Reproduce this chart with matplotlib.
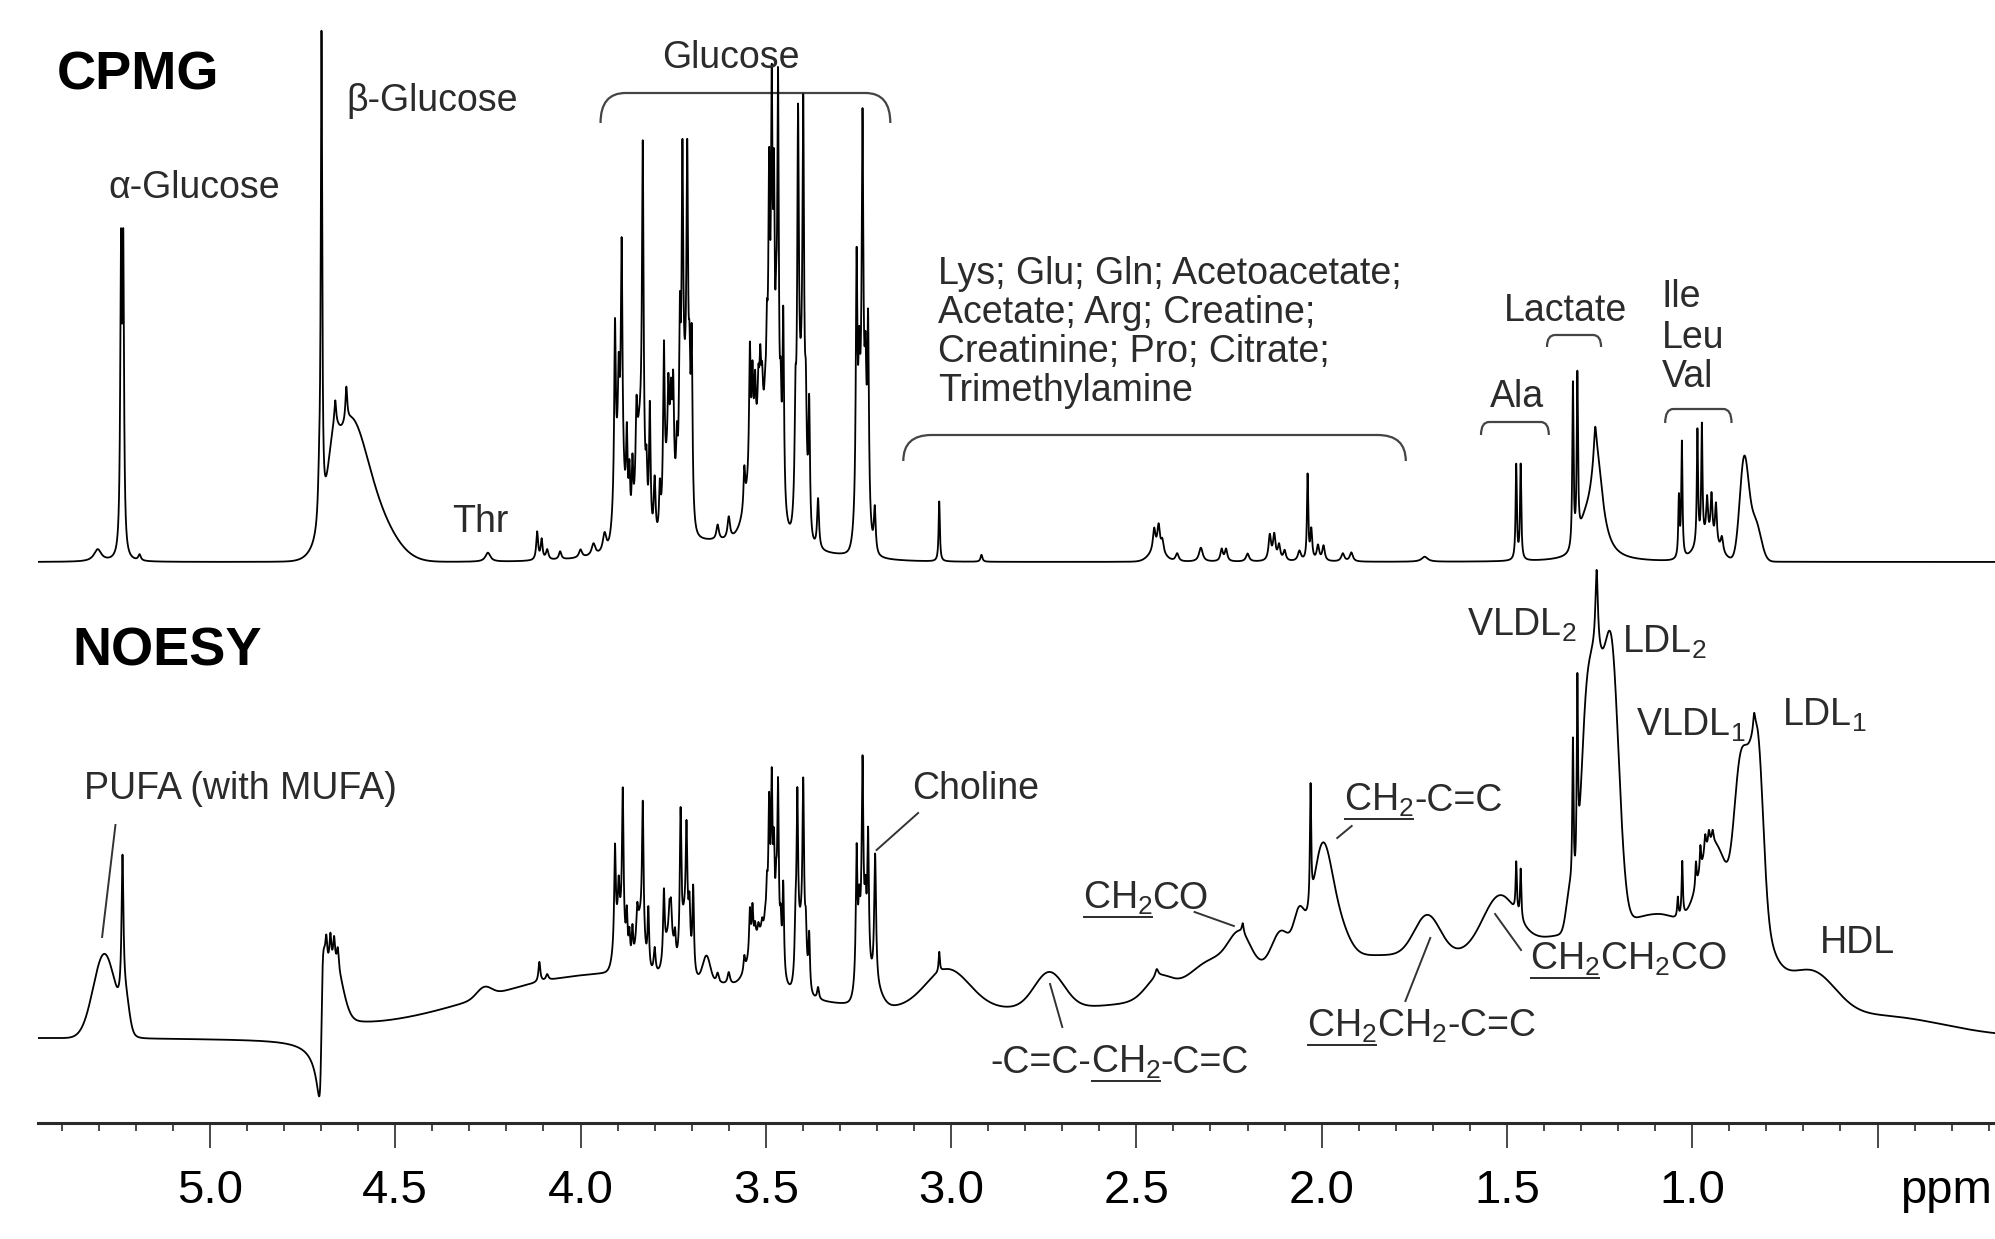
import numpy as np
import matplotlib
matplotlib.use("Agg")
import matplotlib.pyplot as plt
from matplotlib.path import Path
from matplotlib.patches import PathPatch
from matplotlib.transforms import offset_copy

plt.rcParams['font.family'] = ['Liberation Sans', 'DejaVu Sans']
plt.rcParams['mathtext.fontset'] = 'custom'
plt.rcParams['mathtext.rm'] = 'Liberation Sans'
plt.rcParams['mathtext.it'] = 'Liberation Sans:italic'
plt.rcParams['mathtext.bf'] = 'Liberation Sans:bold'

# ---- peak tables: (ppm, height, half width) ----
# CPMG, sharp lines (lorentzian)
cpmg_sugar_lines = [
    (5.303, 12, 0.012), (5.240, 290, 0.0025), (5.234, 290, 0.0025), (5.190, 6, 0.004),
    (4.699, 480, 0.0022), (4.705, 40, 0.004), (4.662, 25, 0.003), (4.632, 35, 0.003),
    (4.250, 9, 0.008), (4.117, 28, 0.003), (4.105, 20, 0.003), (4.090, 10, 0.004),
    (4.055, 8, 0.004), (4.000, 8, 0.005), (3.965, 12, 0.006), (3.935, 20, 0.006),
]
cpmg_glucose_lines = [
    (3.907, 170, 0.0025), (3.897, 80, 0.0025), (3.889, 221, 0.0025), (3.875, 88, 0.0025),
    (3.868, 60, 0.0025), (3.860, 65, 0.0025), (3.849, 67, 0.0025), (3.832, 320, 0.0025),
    (3.822, 50, 0.0025), (3.813, 130, 0.0025), (3.800, 60, 0.003), (3.786, 45, 0.0025),
    (3.775, 158, 0.0025), (3.763, 73, 0.0025), (3.756, 60, 0.0025), (3.750, 93, 0.0025),
    (3.740, 59, 0.0025), (3.732, 155, 0.0025), (3.725, 276, 0.0025), (3.712, 270, 0.0025),
    (3.706, 90, 0.0025), (3.700, 166, 0.0025), (3.630, 15, 0.004), (3.600, 22, 0.004),
    (3.558, 39, 0.0025), (3.543, 125, 0.0025), (3.536, 80, 0.0025), (3.529, 60, 0.0025),
    (3.520, 46, 0.0025), (3.515, 60, 0.0025), (3.510, 40, 0.0025), (3.502, 20, 0.0025),
    (3.497, 80, 0.0025), (3.491, 240, 0.0025), (3.484, 324, 0.0025), (3.478, 238, 0.0025),
    (3.472, 100, 0.0025), (3.467, 381, 0.0025), (3.460, 80, 0.0025), (3.453, 192, 0.0025),
    (3.420, 90, 0.0025), (3.413, 326, 0.0025), (3.399, 322, 0.0025), (3.392, 80, 0.0025),
    (3.383, 128, 0.0025), (3.359, 50, 0.003), (3.255, 240, 0.0025), (3.248, 90, 0.0025),
    (3.239, 315, 0.0025), (3.231, 90, 0.0025), (3.224, 182, 0.0025), (3.206, 45, 0.003),
]
cpmg_small_lines = [
    (3.032, 60, 0.002), (2.918, 7, 0.003), (2.452, 22, 0.004), (2.440, 25, 0.004),
    (2.430, 12, 0.004), (2.390, 8, 0.005), (2.326, 14, 0.006), (2.270, 12, 0.004),
    (2.258, 12, 0.004), (2.200, 8, 0.005), (2.140, 25, 0.004), (2.128, 25, 0.004),
    (2.115, 15, 0.004), (2.100, 10, 0.004), (2.060, 10, 0.005), (2.038, 85, 0.002),
    (2.028, 30, 0.003), (2.010, 15, 0.004), (1.995, 15, 0.004), (1.943, 8, 0.005),
    (1.920, 9, 0.005), (1.722, 5, 0.010),
]
cpmg_aliphatic_lines = [
    (1.475, 95, 0.002), (1.463, 95, 0.002), (1.322, 165, 0.002), (1.310, 165, 0.002),
    (1.262, 30, 0.004), (1.258, 105, 0.020), (1.036, 60, 0.002), (1.028, 115, 0.002),
    (0.986, 115, 0.002), (0.974, 115, 0.002), (0.960, 40, 0.003), (0.948, 45, 0.003),
    (0.936, 40, 0.003), (0.920, 15, 0.004),
]
# CPMG, broad components and multiplet envelopes (gaussian: ppm, height, sigma)
cpmg_humps = [
    (4.628, 120, 0.045), (4.560, 45, 0.055), (4.668, 40, 0.013), (3.620, 20, 0.20),
    (3.895, 90, 0.012), (3.840, 110, 0.010), (3.760, 80, 0.012), (3.718, 120, 0.010),
    (3.510, 110, 0.030), (3.405, 130, 0.010), (3.240, 110, 0.012),
    (2.445, 10, 0.020), (1.290, 20, 0.015), (0.860, 100, 0.012),
    (0.830, 40, 0.015), (0.960, 20, 0.030),
]

# NOESY, sharp lines (lorentzian)
noesy_sugar_lines = [
    (5.236, 140, 0.003), (4.686, 25, 0.003), (4.675, 30, 0.003), (4.665, 25, 0.003),
    (4.655, 20, 0.003), (4.111, 20, 0.003), (4.090, 6, 0.004),
]
noesy_glucose_lines = [
    (3.907, 98, 0.0025), (3.897, 40, 0.0025), (3.886, 146, 0.0025), (3.875, 44, 0.0025),
    (3.868, 30, 0.0025), (3.860, 35, 0.0025), (3.847, 26, 0.0025), (3.832, 134, 0.0025),
    (3.817, 60, 0.0025), (3.800, 25, 0.003), (3.775, 67, 0.0025), (3.760, 25, 0.0025),
    (3.756, 30, 0.0025), (3.745, 23, 0.0025), (3.730, 138, 0.0025), (3.714, 99, 0.0025),
    (3.706, 45, 0.0025), (3.696, 85, 0.0025), (3.630, 10, 0.004), (3.600, 12, 0.004),
    (3.558, 15, 0.0025), (3.543, 45, 0.0025), (3.536, 40, 0.0025), (3.529, 15, 0.0025),
    (3.520, 10, 0.0025), (3.510, 10, 0.0025), (3.502, 10, 0.0025), (3.497, 40, 0.0025),
    (3.491, 125, 0.0025), (3.484, 152, 0.0025), (3.478, 89, 0.0025), (3.472, 50, 0.0025),
    (3.467, 170, 0.0025), (3.460, 40, 0.0025), (3.453, 91, 0.0025), (3.420, 45, 0.0025),
    (3.415, 159, 0.0025), (3.399, 160, 0.0025), (3.392, 40, 0.0025), (3.383, 55, 0.0025),
    (3.359, 12, 0.003), (3.255, 125, 0.0025), (3.248, 45, 0.0025), (3.239, 175, 0.0025),
    (3.231, 45, 0.0025), (3.224, 128, 0.0025), (3.205, 130, 0.003),
]
noesy_aliphatic_lines = [
    (3.032, 20, 0.002), (2.445, 8, 0.005), (2.213, 10, 0.003), (2.030, 120, 0.002),
    (1.475, 50, 0.002), (1.463, 50, 0.002), (1.322, 150, 0.002), (1.310, 190, 0.002),
    (1.258, 80, 0.004), (1.039, 20, 0.002), (1.027, 55, 0.002), (0.990, 25, 0.002),
    (0.978, 25, 0.002), (0.965, 20, 0.003), (0.955, 15, 0.003), (0.945, 12, 0.003),
    (0.833, 15, 0.003), (0.810, 60, 0.045),
]
# NOESY, broad lipid / protein components and multiplet envelopes (gaussian)
noesy_humps = [
    (5.285, 84, 0.030), (5.228, 30, 0.010), (4.660, 45, 0.020), (4.260, 10, 0.020),
    (4.000, 55, 0.300), (3.550, 25, 0.250), (3.660, 25, 0.010), (3.210, 20, 0.020),
    (3.895, 45, 0.012), (3.840, 50, 0.010), (3.760, 40, 0.012), (3.718, 55, 0.010),
    (3.510, 55, 0.030), (3.405, 60, 0.010), (3.240, 55, 0.012),
    (3.010, 40, 0.060), (2.900, 25, 0.350), (2.735, 36, 0.040), (2.440, 20, 0.035),
    (2.300, 25, 0.060), (2.220, 35, 0.030), (2.110, 35, 0.025), (2.060, 45, 0.015),
    (2.000, 100, 0.025), (1.960, 35, 0.030), (1.950, 75, 0.350), (1.715, 40, 0.035),
    (1.520, 52, 0.045), (1.330, 40, 0.010), (1.290, 130, 0.014), (1.262, 240, 0.020),
    (1.218, 270, 0.020), (1.200, 95, 0.300), (1.130, 18, 0.050), (1.060, 20, 0.040),
    (0.940, 120, 0.045), (0.875, 90, 0.015), (0.845, 168, 0.022), (0.820, 100, 0.013),
    (0.670, 35, 0.060), (0.450, 15, 0.150),
]
# residual water in the NOESY trace (dispersive): ppm, amplitude, half width
noesy_water = (4.699, 135, 0.006)

major_ticks = [5.0, 4.5, 4.0, 3.5, 3.0, 2.5, 2.0, 1.5, 1.0, 0.5]
major_labels = ['5.0', '4.5', '4.0', '3.5', '3.0', '2.5', '2.0', '1.5', '1.0', '']
minor_ticks = [round(5.4 - 0.1 * i, 1) for i in range(53)]

cpmg_offset = 561
noesy_offset = 86


def lorentz(x, c, h, w):
    return h / (1.0 + ((x - c) / w) ** 2)


def gauss(x, c, h, s):
    return h * np.exp(-0.5 * ((x - c) / s) ** 2)


def dispersion(x, c, a, w):
    d = c - x
    return a * w * d / (d ** 2 + w ** 2)


def build(x, line_groups, humps):
    y = np.zeros_like(x)
    for group in line_groups:
        for c, h, w in group:
            y += lorentz(x, c, h, w)
    for c, h, s in humps:
        y += gauss(x, c, h, s)
    return y


ppm = np.linspace(5.464, 0.183, 26000)
cpmg = build(ppm, [cpmg_sugar_lines, cpmg_glucose_lines, cpmg_small_lines,
                   cpmg_aliphatic_lines], cpmg_humps)
noesy = build(ppm, [noesy_sugar_lines, noesy_glucose_lines, noesy_aliphatic_lines],
              noesy_humps)
noesy += dispersion(ppm, *noesy_water)

fig = plt.figure(figsize=(19.95, 12.39), dpi=100)
ax = fig.add_axes([38 / 1995, 116 / 1239, 1 - 38 / 1995, 1123 / 1239])
ax.set_xlim(5.464, 0.183)
ax.set_ylim(0, 1123)

ax.plot(ppm, cpmg_offset + cpmg, color='black', lw=1.3)
ax.plot(ppm, noesy_offset + noesy, color='black', lw=1.3)

for s in ['top', 'left', 'right']:
    ax.spines[s].set_visible(False)
ax.spines['bottom'].set_linewidth(2.2)
ax.spines['bottom'].set_color('#2a2a2a')
ax.set_yticks([])
ax.set_xticks(major_ticks)
ax.set_xticklabels(major_labels)
ax.set_xticks(minor_ticks, minor=True)
ax.tick_params(axis='x', which='major', length=18, width=1.2, direction='out',
               labelsize=34, pad=15, color='#2a2a2a')
ax.tick_params(axis='x', which='minor', length=6, width=1.2, direction='out',
               color='#2a2a2a')
ax.text(0.44, -80, 'ppm', fontsize=34, va='baseline', ha='left')

TXT = '#2b2b2b'
LBL = 27

ax.text(5.413, 1034, 'CPMG', fontsize=39, fontweight='bold', va='baseline')
ax.text(5.371, 458, 'NOESY', fontsize=39, fontweight='bold', va='baseline')

plain_labels = [
    (5.275, 925, '\u03b1-Glucose'), (4.633, 1012, '\u03b2-Glucose'), (4.347, 591, 'Thr'),
    (3.781, 1055, 'Glucose'),
    (3.036, 839, 'Lys; Glu; Gln; Acetoacetate;'), (3.036, 800, 'Acetate; Arg; Creatine;'),
    (3.036, 761, 'Creatinine; Pro; Citrate;'), (3.036, 722, 'Trimethylamine'),
    (1.508, 802, 'Lactate'), (1.546, 716, 'Ala'),
    (1.083, 816, 'Ile'), (1.083, 775, 'Leu'), (1.083, 736, 'Val'),
    (5.340, 324, 'PUFA (with MUFA)'), (3.106, 324, 'Choline'),
    (1.608, 487, 'VLDL$_2$'), (1.190, 470, 'LDL$_2$'), (1.152, 387, 'VLDL$_1$'),
    (0.758, 397, 'LDL$_1$'), (0.656, 170, 'HDL'),
]
for x, y, s in plain_labels:
    ax.text(x, y, s, fontsize=LBL, color=TXT, va='baseline', ha='left')

fig.canvas.draw()
renderer = fig.canvas.get_renderer()
inv = ax.transData.inverted()


def chem_label(x, y, pieces):
    # pieces: list of (text, underlined)
    dx = 0.0
    for s, under in pieces:
        tr = offset_copy(ax.transData, fig=fig, x=dx, y=0, units='dots')
        t = ax.text(x, y, s, fontsize=LBL, color=TXT, va='baseline', ha='left',
                    transform=tr)
        bb = t.get_window_extent(renderer)
        if under:
            base = ax.transData.transform((x, y))[1]
            yl = base - 0.22 * LBL * fig.dpi / 72
            p0 = inv.transform((bb.x0 + 1, yl))
            p1 = inv.transform((bb.x1 - 1, yl))
            ax.plot([p0[0], p1[0]], [p0[1], p1[1]], color=TXT, lw=1.4)
        dx += bb.width


chem_label(2.645, 214, [('CH$_2$', True), ('CO', False)])
chem_label(1.939, 312, [('CH$_2$', True), ('-C=C', False)])
chem_label(2.895, 50, [('-C=C-', False), ('CH$_2$', True), ('-C=C', False)])
chem_label(2.040, 86, [('CH$_2$', True), ('CH$_2$-C=C', False)])
chem_label(1.438, 153, [('CH$_2$', True), ('CH$_2$CO', False)])

# pointer lines from labels to peaks
pointers = [
    ((5.255, 298), (5.291, 186)), ((3.089, 310), (3.201, 273)),
    ((2.343, 211), (2.237, 197)), ((1.919, 297), (1.958, 285)),
    ((2.733, 139), (2.700, 96)), ((1.707, 185), (1.774, 122)),
    ((1.532, 209), (1.462, 173)),
]
for (x0, y0), (x1, y1) in pointers:
    ax.plot([x0, x1], [y0, y1], color='#333333', lw=1.4)


def bracket(xl, xr, ytop, yend, r):
    verts = [(xl, yend), (xl, ytop), (xl - r, ytop), (xr + r, ytop),
             (xr, ytop), (xr, yend)]
    codes = [Path.MOVETO, Path.CURVE3, Path.CURVE3, Path.LINETO, Path.CURVE3, Path.CURVE3]
    ax.add_patch(PathPatch(Path(verts, codes), fill=False, edgecolor='#444444', lw=1.6))


bracket(3.946, 3.164, 1030, 1000, 0.067)
bracket(3.129, 1.773, 688, 662, 0.076)
bracket(1.392, 1.246, 788, 776, 0.022)
bracket(1.570, 1.387, 701, 688, 0.022)
bracket(1.073, 0.894, 714, 700, 0.022)

fig.savefig('out.png', dpi=100)
